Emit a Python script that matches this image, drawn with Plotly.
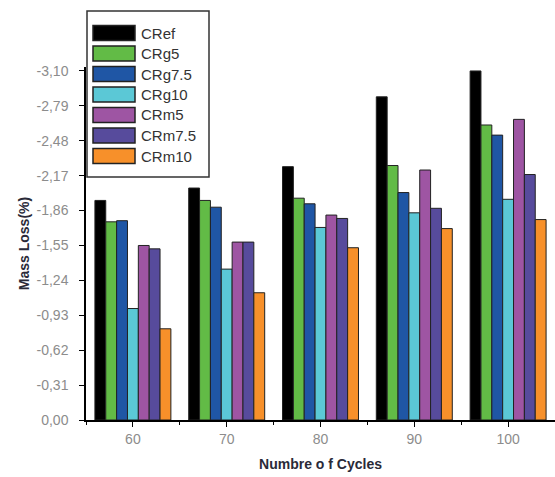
import plotly.graph_objects as go

cycles = ["60", "70", "80", "90", "100"]
series_names = ["CRef", "CRg5", "CRg7.5", "CRg10", "CRm5", "CRm7.5", "CRm10"]
CRef = [1.95, 2.06, 2.25, 2.87, 3.10]
CRg5 = [1.76, 1.95, 1.97, 2.26, 2.62]
CRg7_5 = [1.77, 1.89, 1.92, 2.02, 2.53]
CRg10 = [0.99, 1.34, 1.71, 1.84, 1.96]
CRm5 = [1.55, 1.58, 1.82, 2.22, 2.67]
CRm7_5 = [1.52, 1.58, 1.79, 1.88, 2.18]
CRm10 = [0.81, 1.13, 1.53, 1.70, 1.78]
series_values = [CRef, CRg5, CRg7_5, CRg10, CRm5, CRm7_5, CRm10]
colors = ["#000000", "#62bb46", "#1f56a5", "#5bc8d6", "#9e55a3", "#574b9c", "#f7902a"]
ytick_vals = [0.0, 0.31, 0.62, 0.93, 1.24, 1.55, 1.86, 2.17, 2.48, 2.79, 3.10]
ytick_text = ["0,00", "-0,31", "-0,62", "-0,93", "-1,24", "-1,55", "-1,86", "-2,17", "-2,48", "-2,79", "-3,10"]

xpos = list(range(len(cycles)))

fig = go.Figure()
for name, vals, col in zip(series_names, series_values, colors):
    fig.add_trace(go.Bar(x=xpos, y=vals, name=name, marker=dict(color=col, line=dict(color="#222222", width=1)),
                         showlegend=False, hoverinfo="skip"))

# Layout geometry (pixels)
W, H = 555, 477
L, R, T, B = 86, 0, 67, 57
pw, ph = W - L - R, H - T - B

def px_x(p):
    return (p - L) / pw

def px_y(p):
    return (H - B - p) / ph

shapes = []
annotations = []
# legend box
shapes.append(dict(type="rect", xref="paper", yref="paper", x0=px_x(87), x1=px_x(209), y0=px_y(177), y1=px_y(11),
                   line=dict(color="#333333", width=1.5), fillcolor="white", layer="above"))
row0, step = 33, 20.5
for i, (name, col) in enumerate(zip(series_names, colors)):
    cy = row0 + i * step
    shapes.append(dict(type="rect", xref="paper", yref="paper", x0=px_x(93), x1=px_x(135), y0=px_y(cy + 7.5), y1=px_y(cy - 7.5),
                       line=dict(color="#222222", width=1.5), fillcolor=col, layer="above"))
    annotations.append(dict(text=name, xref="paper", yref="paper", x=px_x(139), y=px_y(cy), xanchor="left", yanchor="middle",
                            showarrow=False, font=dict(size=15, color="#333333", family="Liberation Sans")))

fig.update_layout(
    width=W, height=H,
    margin=dict(l=L, r=R, t=T, b=B),
    paper_bgcolor="white", plot_bgcolor="white",
    barmode="group", bargap=0.19, bargroupgap=0,
    font=dict(family="Liberation Sans", size=13, color="#8c8c8c"),
    shapes=shapes, annotations=annotations,
    xaxis=dict(range=[-0.5, 4.5], tickmode="array", tickvals=xpos, ticktext=cycles,
               showline=True, linecolor="#000000", linewidth=1.5, ticks="outside", ticklen=5, tickcolor="#000000",
               showgrid=False, zeroline=False, tickfont=dict(size=14, color="#8c8c8c"),
               minor=dict(tickmode="array", tickvals=[-0.5, 0.5, 1.5, 2.5, 3.5, 4.5], ticks="outside", ticklen=3,
                          tickcolor="#000000", showgrid=False),
               title=dict(text="<b>Numbre o f Cycles</b>", font=dict(size=14, color="#2a2a38"), standoff=14)),
    yaxis=dict(range=[0, 3.135], tickmode="array", tickvals=ytick_vals, ticktext=ytick_text,
               showline=True, linecolor="#000000", linewidth=1.5, ticks="outside", ticklen=5, tickcolor="#000000",
               showgrid=False, zeroline=False, tickfont=dict(size=14, color="#8c8c8c"), ticklabelstandoff=8,
               title=dict(text="<b>Mass Loss(%)</b>", font=dict(size=14, color="#2a2a38"), standoff=4)),
)

fig.write_html("out.html", config={"displayModeBar": False},
               post_script="document.body.style.margin='0';document.body.style.overflow='hidden';")
